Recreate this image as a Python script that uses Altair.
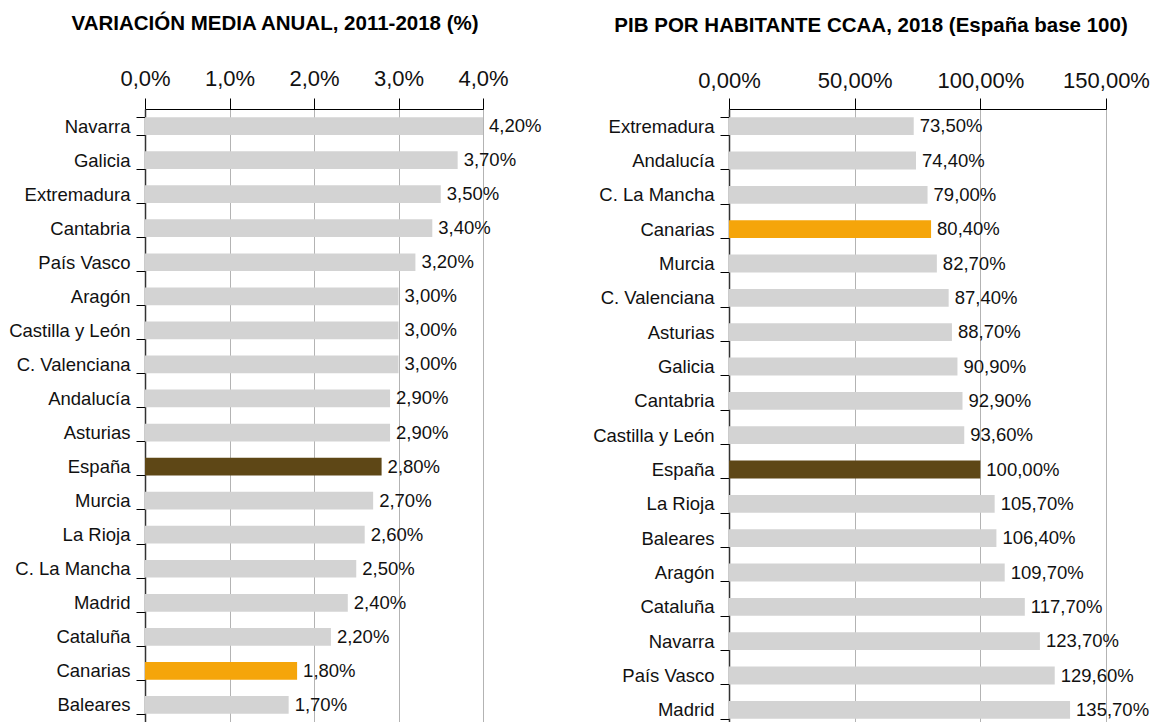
import altair as alt
import pandas as pd

left_regions = ["Navarra", "Galicia", "Extremadura", "Cantabria", "País Vasco", "Aragón",
                "Castilla y León", "C. Valenciana", "Andalucía", "Asturias", "España", "Murcia",
                "La Rioja", "C. La Mancha", "Madrid", "Cataluña", "Canarias", "Baleares"]
left_values = [4.2, 3.7, 3.5, 3.4, 3.2, 3.0, 3.0, 3.0, 2.9, 2.9, 2.8, 2.7, 2.6, 2.5, 2.4, 2.2, 1.8, 1.7]
left_ticks = [0, 1, 2, 3, 4]

right_regions = ["Extremadura", "Andalucía", "C. La Mancha", "Canarias", "Murcia", "C. Valenciana",
                 "Asturias", "Galicia", "Cantabria", "Castilla y León", "España", "La Rioja",
                 "Baleares", "Aragón", "Cataluña", "Navarra", "País Vasco", "Madrid"]
right_values = [73.5, 74.4, 79.0, 80.4, 82.7, 87.4, 88.7, 90.9, 92.9, 93.6, 100.0, 105.7,
                106.4, 109.7, 117.7, 123.7, 129.6, 135.7]
right_ticks = [0, 50, 100, 150]

FONT = "Liberation Sans"


def group_of(r):
    if r == "Canarias":
        return "canarias"
    if r == "España":
        return "espana"
    return "otras"


def panel(regions, values, ticks, decimals, title, width, height, title_offset, label_pad):
    df = pd.DataFrame({"region": regions, "v": values, "g": [group_of(r) for r in regions]})
    xmax = ticks[-1]
    base = alt.Chart(df).transform_calculate(
        xv=f"min(datum.v, {xmax})",
        lab="replace(format(datum.v, '.2f'), '.', ',') + '%'",
    )
    y = alt.Y("region:N", sort=regions,
              scale=alt.Scale(paddingInner=0.48, paddingOuter=0.24),
              axis=alt.Axis(title=None, tickBand="extent", tickSize=9, tickColor="black",
                            domainColor="#333333", domainWidth=1.5, labelFontSize=18.5,
                            labelPadding=6, labelColor="#111111", labelFont=FONT, grid=False))
    x = alt.X("xv:Q", scale=alt.Scale(domain=[0, xmax], nice=False, clamp=True),
              axis=alt.Axis(orient="top", values=ticks, title=None,
                            labelExpr=f"replace(format(datum.value, '.{decimals}f'), '.', ',') + '%'",
                            tickSize=11, tickColor="black", domainColor="black",
                            labelFontSize=22, labelPadding=label_pad, labelColor="#111111",
                            labelFont=FONT, grid=True, gridColor="#b3b3b3", labelFlush=False))
    bars = base.mark_bar().encode(
        y=y, x=x,
        color=alt.Color("g:N", scale=alt.Scale(domain=["otras", "canarias", "espana"],
                                               range=["#d3d3d3", "#f5a50a", "#5e4716"]),
                        legend=None),
    )
    text = base.mark_text(align="left", baseline="middle", dx=6, fontSize=18.5, font=FONT,
                          color="#111111").encode(
        y=alt.Y("region:N", sort=regions), x=alt.X("xv:Q"), text="lab:N")
    return alt.layer(bars, text).properties(
        width=width, height=height,
        title=alt.TitleParams(title, fontSize=20.5, fontWeight="bold", font=FONT, anchor="middle",
                              frame="bounds", offset=title_offset, color="#000000"),
    )


left = panel(left_regions, left_values, left_ticks, 1,
             "VARIACIÓN MEDIA ANUAL, 2011-2018 (%)", 338, 613, 33, 8)
right = panel(right_regions, right_values, right_ticks, 2,
              "PIB POR HABITANTE CCAA, 2018 (España base 100)", 377, 618, 33, 6)

chart = alt.hconcat(left, right, spacing=50).properties(
    padding={"left": 0, "top": 5, "right": 0, "bottom": 0}
).configure_view(stroke=None).configure(font=FONT)

chart.save("out.html", embed_options={"renderer": "svg", "actions": False})
